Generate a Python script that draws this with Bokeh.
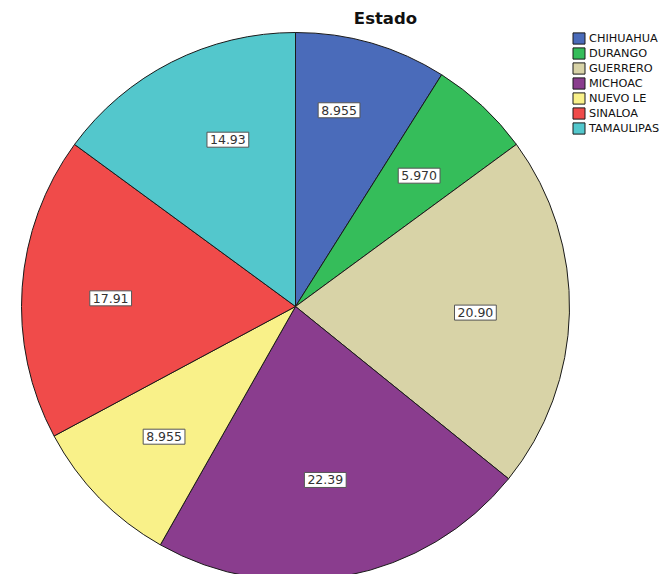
import numpy as np
from bokeh.plotting import figure
from bokeh.models import ColumnDataSource, Range1d, Legend, LegendItem, Label
from bokeh.core.properties import value
from bokeh.embed import file_html
from bokeh.resources import INLINE

# ---- data ----
states = ["CHIHUAHUA", "DURANGO", "GUERRERO", "MICHOAC", "NUEVO LE", "SINALOA", "TAMAULIPAS"]
values = [8.955, 5.970, 20.90, 22.39, 8.955, 17.91, 14.93]
value_labels = ["8.955", "5.970", "20.90", "22.39", "8.955", "17.91", "14.93"]
colors = ["#4a6bba", "#35bd5a", "#d8d3a7", "#8a3d8e", "#f9f189", "#f04b4a", "#53c7cc"]

# ---- layout constants (screen pixels, y measured downward) ----
W, H = 661, 574
CX, CY = 295, 306           # pie centre
R = 274                     # pie radius (px)
# small per-label placement tweaks (angle offset deg, radius px)
label_ang_adj = [-3.6, 0.4, 0.6, 1.0, -0.4, -1.5, 4.8]
label_rad = [201, 180, 180, 176, 185, 185, 180]

def ydat(y_page):
    return H - y_page

vals = np.array(values, dtype=float)
frac = vals / vals.sum()
cum_end = np.cumsum(frac)
cum_start = cum_end - frac
# clockwise from 12 o'clock
start = np.pi / 2 - 2 * np.pi * cum_end
end = np.pi / 2 - 2 * np.pi * cum_start
mid_deg = 360 * (cum_start + cum_end) / 2 + np.array(label_ang_adj)
lx = CX + np.array(label_rad) * np.sin(np.radians(mid_deg))
ly = ydat(CY - np.array(label_rad) * np.cos(np.radians(mid_deg)))

src = ColumnDataSource(dict(state=states, value=values, start=start, end=end,
                            color=colors, lab=value_labels, lx=lx, ly=ly))

p = figure(width=W, height=H, output_backend="svg", toolbar_location=None,
           x_range=Range1d(0, W), y_range=Range1d(0, H),
           x_axis_location=None, y_axis_location=None, min_border=0)
p.xgrid.visible = False
p.ygrid.visible = False
p.outline_line_color = None
p.background_fill_color = "white"

r = p.wedge(x=CX, y=ydat(CY), radius=R, radius_units="screen",
            start_angle="start", end_angle="end", fill_color="color",
            line_color="#1a1a1a", line_width=1, source=src)

p.text(x="lx", y="ly", text="lab", source=src,
       text_align="center", text_baseline="middle",
       text_font=value("DejaVu Sans"), text_font_size="12.5px", text_color="#333333",
       background_fill_color="white", border_line_color="#555555",
       border_line_width=1, padding=3)

title = Label(x=385, y=ydat(18), text="Estado", text_align="center", text_baseline="middle",
              text_font="DejaVu Sans", text_font_style="bold", text_font_size="16.5px",
              text_color="#111111")
p.add_layout(title)

items = [LegendItem(label=s, renderers=[r], index=i) for i, s in enumerate(states)]
legend = Legend(items=items, location=(571, 439), orientation="vertical",
                glyph_width=15, glyph_height=14, label_height=14, spacing=1,
                label_standoff=3, padding=0, margin=0,
                label_text_font="DejaVu Sans", label_text_font_size="11.3px",
                label_text_color="#111111", label_text_baseline="middle",
                border_line_color=None, background_fill_alpha=0)
p.add_layout(legend)

open("out.html", "w").write(file_html(p, INLINE))
